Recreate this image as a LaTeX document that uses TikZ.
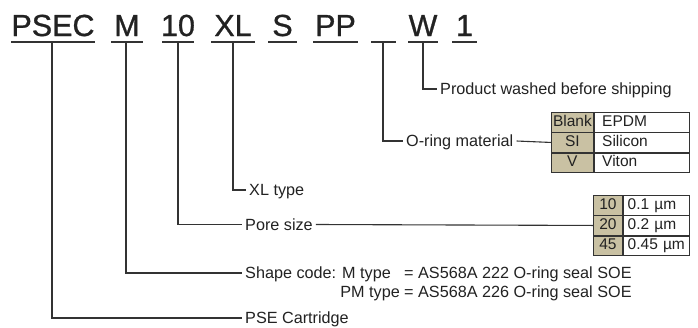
\documentclass[tikz,border=0pt]{standalone}
\usepackage{fontspec}
\setmainfont{Liberation Sans}
\definecolor{ink}{HTML}{222222}
\definecolor{leadc}{HTML}{333333}
\definecolor{tan}{HTML}{C9C1A3}
\newfontfamily\codefont[FakeBold=0.9]{Liberation Sans}
\begin{document}
\begin{tikzpicture}[x=1pt,y=-1pt,
  code/.style={font=\codefont\fontsize{30.5}{30.5}\selectfont, text=ink, anchor=base, inner sep=0pt},
  uline/.style={draw=leadc, line width=1.8pt},
  lead/.style={draw=leadc, line width=1.1pt},
  lbl/.style={font=\fontsize{16.2}{18}\selectfont, text=ink, anchor=west, inner xsep=3pt, inner ysep=0pt, text height=11pt, text depth=0pt},
  lblb/.style={font=\fontsize{16.2}{18}\selectfont, text=ink, inner sep=0pt},
  kcell/.style={draw=leadc, line width=0.8pt, fill=tan, anchor=north west, inner sep=0pt, minimum height=19.5pt, font=\fontsize{15.5}{15.5}\selectfont, text=ink, text height=11pt, text depth=3pt},
  vcell/.style={draw=leadc, line width=0.8pt, fill=white, anchor=north west, inner ysep=0pt, minimum height=19.5pt, align=left, font=\fontsize{15.5}{15.5}\selectfont, text=ink, text height=11pt, text depth=3pt}
]
\useasboundingbox (0,0) rectangle (698,327);
\fill[white] (0,0) rectangle (698,327);

% code letters
\node[code] (cPSEC) at (53,36) {PSEC};
\node[code] (cM) at (127,36) {M};
\node[code] (c10) at (178,36) {10};
\node[code] (cXL) at (233,36) {XL};
\node[code] (cS) at (282.5,36) {S};
\node[code] (cPP) at (335.5,36) {PP};
\node[code] (cW) at (423,36) {W};
\node[code] (c1) at (464.5,36) {1};

% underlines
\draw[uline] (11,42) -- (95,42);
\draw[uline] (111,42) -- (143,42);
\draw[uline] (162,42) -- (194,42);
\draw[uline] (211,42) -- (255,42);
\draw[uline] (268,42) -- (297,42);
\draw[uline] (313,42) -- (358,42);
\draw[uline] (371,42) -- (396,42);
\draw[uline] (408,42) -- (438,42);
\draw[uline] (452,42) -- (477,42);

% connector start points on underlines
\coordinate (uPSEC) at (52,42);
\coordinate (uM) at (126,42);
\coordinate (u10) at (178,42);
\coordinate (uXL) at (233,42);
\coordinate (uB) at (383,42);
\coordinate (uW) at (423,42);

% labels
\node[lbl] (prod) at (437,89) {Product washed before shipping};
\node[lbl] (oring) at (403,141) {O-ring material};
\node[lbl] (xl) at (246,190) {XL type};
\node[lbl] (pore) at (242,224.5) {Pore size};
\node[lbl] (shape) at (242,273) {Shape code: M type};
\node[lblb, anchor=base west] (eq1) at (404,278.5) {= AS568A 222 O-ring seal SOE};
\node[lblb, anchor=base west] (eq2) at (404,297.5) {= AS568A 226 O-ring seal SOE};
\node[lblb, anchor=base east] (pm) at (400,297.5) {PM type};
\node[lbl] (pse) at (242,318) {PSE Cartridge};

% table 1: O-ring material
\node[kcell, minimum width=42pt] (t1k1) at (551,112) {Blank};
\node[vcell, inner xsep=8pt, text width=79pt] (t1v1) at (t1k1.north east) {\mbox{EPDM}};
\node[kcell, minimum width=42pt] (t1k2) at (t1k1.south west) {SI};
\node[vcell, inner xsep=8pt, text width=79pt] (t1v2) at (t1k2.north east) {\mbox{Silicon}};
\node[kcell, minimum width=42pt] (t1k3) at (t1k2.south west) {V};
\node[vcell, inner xsep=8pt, text width=79pt] (t1v3) at (t1k3.north east) {\mbox{Viton}};

% table 2: pore size
\node[kcell, minimum width=29pt] (t2k1) at (593,195) {10};
\node[vcell, inner xsep=4.5pt, text width=57pt] (t2v1) at (t2k1.north east) {\mbox{0.1 µm}};
\node[kcell, minimum width=29pt] (t2k2) at (t2k1.south west) {20};
\node[vcell, inner xsep=4.5pt, text width=57pt] (t2v2) at (t2k2.north east) {\mbox{0.2 µm}};
\node[kcell, minimum width=29pt] (t2k3) at (t2k2.south west) {45};
\node[vcell, inner xsep=4.5pt, text width=57pt] (t2v3) at (t2k3.north east) {\mbox{0.45 µm}};

% connectors
\draw[lead] (uW) |- (prod.west);
\draw[lead] (uB) |- (oring.west);
\draw[lead] (oring.east) -- (t1k2.west);
\draw[lead] (uXL) |- (xl.west);
\draw[lead] (u10) |- (pore.west);
\draw[lead] (pore.east) -- (t2k2.west);
\draw[lead] (uM) |- (shape.west);
\draw[lead] (uPSEC) |- (pse.west);
\end{tikzpicture}
\end{document}
